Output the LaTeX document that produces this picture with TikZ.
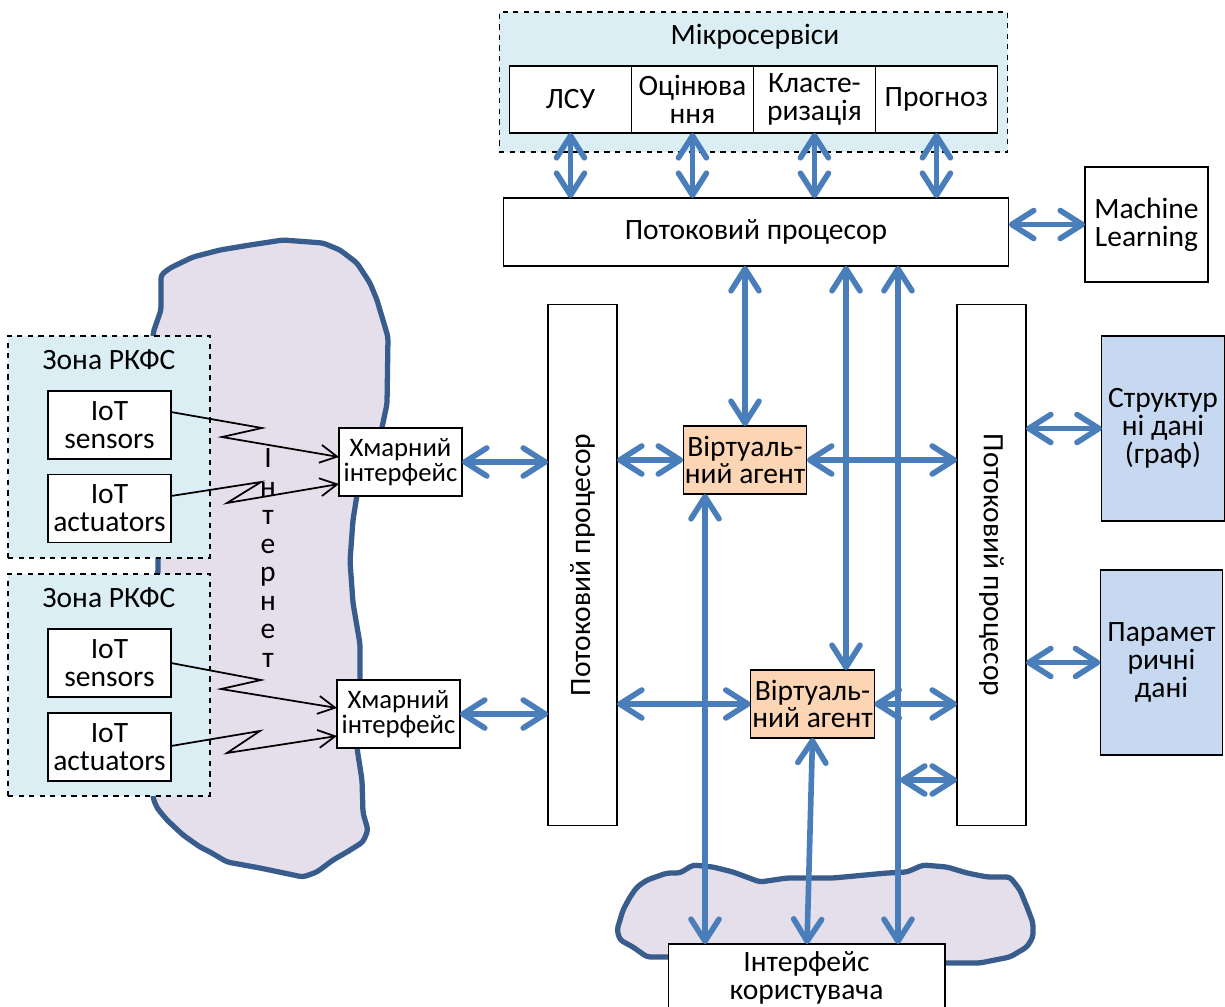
\documentclass[tikz,border=0pt]{standalone}
\usepackage{fontspec}
\setmainfont{Carlito}
\usetikzlibrary{arrows.meta,positioning}
\definecolor{arrblue}{RGB}{74,126,187}
\definecolor{cloudline}{RGB}{56,93,140}
\definecolor{cloudfill}{RGB}{229,223,236}
\definecolor{zonefill}{RGB}{218,238,243}
\definecolor{datafill}{RGB}{198,217,241}
\definecolor{agentfill}{RGB}{252,213,181}
\begin{document}
\begin{tikzpicture}[x=0.02cm,y=-0.02cm,
  every node/.style={font=\fontsize{16.8}{15.8}\selectfont,align=center,inner sep=1pt,outer sep=0pt},
  box/.style={draw,line width=0.6pt,fill=white},
  zone/.style={draw,dashed,line width=0.6pt,fill=zonefill},
  msbox/.style={box,minimum width=2.44cm,minimum height=1.34cm},
  iotbox/.style={box,minimum width=2.46cm,minimum height=1.36cm},
  cloudif/.style={box,minimum width=2.46cm,minimum height=1.36cm,font=\fontsize{15.2}{14.2}\selectfont},
  agent/.style={box,fill=agentfill,minimum width=2.44cm,minimum height=1.36cm},
  databox/.style={box,fill=datafill,minimum width=2.45cm,minimum height=3.7cm},
  procbar/.style={box,minimum width=1.38cm,minimum height=10.44cm},
  dbl/.style={arrblue,line width=3.2pt,{Straight Barb[round,length=4.4mm,width=5.6mm]}-{Straight Barb[round,length=4.4mm,width=5.6mm]}},
  zig/.style={line width=1pt,-{Straight Barb[length=3.4mm,width=3.6mm]}},
  cloud/.style={draw=cloudline,fill=cloudfill,line width=3pt,rounded corners=2pt,line join=round}]
  \path[use as bounding box] (0,0) rectangle (1225,1007);

  % clouds
  \draw[cloud] (161,275) -- (170,268) -- (193,257) -- (220,250) -- (250,245) -- (283,240) -- (323,243) -- (340,250)
    -- (357,263) -- (370,283) -- (377,300) -- (388,337) -- (387,404) -- (380,437) -- (370,462) -- (357,495)
    -- (353,520) -- (350,561) -- (353,603) -- (360,644) -- (360,685) -- (357,748) -- (362,780) -- (363,813)
    -- (368,830) -- (363,842) -- (347,852) -- (333,860) -- (317,872) -- (303,877) -- (260,868) -- (227,862)
    -- (210,852) -- (200,847) -- (183,835) -- (167,820) -- (157,808) -- (153,798) -- (156,700) -- (158,563)
    -- (155,400) -- (153,333) -- (161,310) -- cycle;
  \draw[cloud] (667,957) -- (647,957) -- (633,947) -- (620,940) -- (617,930) -- (623,910) -- (630,897) -- (637,887)
    -- (647,880) -- (667,873) -- (680,873) -- (693,865) -- (713,867) -- (733,872) -- (760,882) -- (787,878)
    -- (833,878) -- (887,873) -- (907,872) -- (923,865) -- (947,867) -- (967,873) -- (987,877) -- (1010,877)
    -- (1020,890) -- (1027,907) -- (1033,923) -- (1033,937) -- (1027,947) -- (1010,957) -- (980,963) -- (947,963) -- cycle;

  % microservices
  \node[zone,minimum width=10.18cm,minimum height=2.8cm] (micro) at (753.5,82) {};
  \node (microt) at (755,37) {Мікросервіси};
  \node[msbox] (lsu) at (570.5,99.5) {ЛСУ};
  \node[msbox,right=0pt of lsu] (otsin) {Оцінюва\\ння};
  \node[msbox,right=0pt of otsin] (klast) {Класте-\\ризація};
  \node[msbox,right=0pt of klast] (progn) {Прогноз};

  \node[box,minimum width=10.12cm,minimum height=1.36cm] (topproc) at (756,232) {Потоковий процесор};
  \node[box,minimum width=2.46cm,minimum height=2.3cm] (ml) at (1146.5,224.5) {Machine\\Learning};

  \node[procbar,label={[rotate=90]center:Потоковий процесор}] (leftproc) at (582.5,565) {};
  \node[procbar,label={[rotate=-90]center:Потоковий процесор}] (rightproc) at (991.5,565) {};

  \node[agent] (agent1) at (745,460) {Віртуаль-\\ний агент};
  \node[agent] (agent2) at (812.5,704) {Віртуаль-\\ний агент};

  \node[databox] (data1) at (1163,428.5) {Структур\\ні дані\\(граф)};
  \node[databox] (data2) at (1161.5,662.5) {Парамет\\ричні\\дані};

  \node[box,minimum width=5.54cm,minimum height=1.36cm] (user) at (806.5,978) {Інтерфейс\\користувача};

  % zones
  \node[zone,minimum width=4.04cm,minimum height=4.44cm] (zone1) at (109,447) {};
  \node (zone1t) at (109,360) {Зона РКФС};
  \node[iotbox] (sens1) at (109.5,425) {IoT\\sensors};
  \node[iotbox] (act1) at (109.5,508.5) {IoT\\actuators};
  \node[zone,minimum width=4.04cm,minimum height=4.44cm] (zone2) at (109,685) {};
  \node (zone2t) at (109,598) {Зона РКФС};
  \node[iotbox] (sens2) at (109.5,663) {IoT\\sensors};
  \node[iotbox] (act2) at (109.5,747) {IoT\\actuators};

  \node[cloudif] (cif1) at (400.5,462) {Хмарний\\інтерфейс};
  \node[cloudif] (cif2) at (398.5,714) {Хмарний\\інтерфейс};
  \node[font=\fontsize{16.8}{16.2}\selectfont] (inet) at (268,558) {І\\н\\т\\е\\р\\н\\е\\т};

  % wireless links
  \draw[zig] ([yshift=0.26cm]sens1.east) -- ++(91,16) -- ++(-40,9) -- ([yshift=0.1cm]cif1.west);
  \draw[zig] ([yshift=0.25cm]act1.east) -- ++(90,-14) -- ++(-34,21) -- ([yshift=-0.44cm]cif1.west);
  \draw[zig] (sens2.east) -- ++(90,17) -- ++(-40,9) -- ([yshift=0.12cm]cif2.west);
  \draw[zig] ([yshift=0.02cm]act2.east) -- ++(89,-15) -- ++(-33,22) -- ([yshift=-0.44cm]cif2.west);

  % data flows
  \foreach \n in {lsu,otsin,klast,progn}
    \draw[dbl] (\n.south) -- (\n.south |- topproc.north);
  \draw[dbl] (topproc.east |- ml.west) -- (ml.west);
  \draw[dbl] (cif1.east) -- (cif1.east -| leftproc.west);
  \draw[dbl] (cif2.east) -- (cif2.east -| leftproc.west);
  \draw[dbl] (agent1.west -| leftproc.east) -- (agent1.west);
  \draw[dbl] (agent2.west -| leftproc.east) -- (agent2.west);
  \draw[dbl] (agent1.east) -- (agent1.east -| rightproc.west);
  \draw[dbl] (agent2.east) -- (agent2.east -| rightproc.west);
  \draw[dbl] (rightproc.east |- data1.west) -- (data1.west);
  \draw[dbl] (rightproc.east |- data2.west) -- (data2.west);
  \draw[dbl] (agent1.north |- topproc.south) -- (agent1.north);
  \draw[dbl] ([xshift=0.67cm]agent2.north |- topproc.south) -- ([xshift=0.67cm]agent2.north);
  \draw[dbl] ([xshift=2.84cm]topproc.south) -- ([xshift=2.84cm]topproc.south |- user.north);
  \draw[dbl] ([xshift=-0.8cm]agent1.south) -- ([xshift=-0.8cm]agent1.south |- user.north);
  \draw[dbl] (agent2.south) -- ([xshift=-0.11cm]agent2.south |- user.north);
  \coordinate (tap) at (900,780);
  \draw[dbl] (tap) -- (tap -| rightproc.west);
\end{tikzpicture}
\end{document}
